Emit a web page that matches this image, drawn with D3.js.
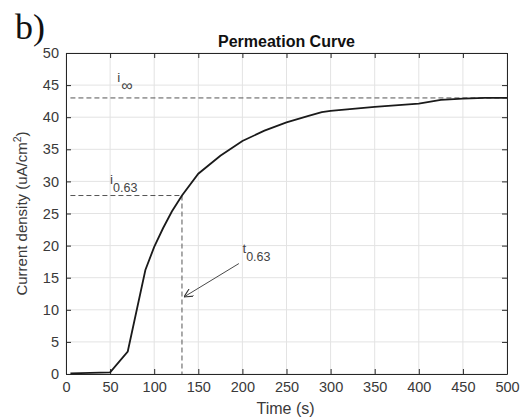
<!DOCTYPE html>
<html>
<head>
<meta charset="utf-8">
<script src="https://cdn.jsdelivr.net/npm/d3@7"></script>
<style>
body { margin: 0; background: #fff; }
text { font-family: Arial, "Liberation Sans", sans-serif; }
</style>
</head>
<body>
<script>
// permeation curve
var timeData = [5, 50, 70, 90, 100, 110, 120, 131.5, 150, 175, 200, 225, 250, 275, 290, 300, 350, 400, 425, 450, 475, 500];
var currentData = [0.1, 0.25, 3.5, 16.2, 19.8, 22.7, 25.3, 27.8, 31.2, 34, 36.3, 37.9, 39.2, 40.2, 40.8, 41, 41.6, 42.1, 42.7, 42.9, 43, 43];
var xTicks = [0, 50, 100, 150, 200, 250, 300, 350, 400, 450, 500];
var yTicks = [0, 5, 10, 15, 20, 25, 30, 35, 40, 45, 50];
var iInf = 43;
var i063 = 27.8;
var t063 = 131.5;
var tStart = 5;

var W = 523, H = 419;
var padL = 66, padR = 507, padT = 53, padB = 374;

var svg = d3.select("body").append("svg")
  .attr("width", W).attr("height", H);

var x = d3.scaleLinear().domain([0, 500]).range([padL, padR]);
var y = d3.scaleLinear().domain([0, 50]).range([padB, padT]);

// grid
svg.append("g").selectAll("line").data(xTicks).enter().append("line")
  .attr("x1", function(d) { return x(d); }).attr("x2", function(d) { return x(d); })
  .attr("y1", padT).attr("y2", padB)
  .attr("stroke", "#e3e3e3").attr("stroke-width", 1);
svg.append("g").selectAll("line").data(yTicks).enter().append("line")
  .attr("x1", padL).attr("x2", padR)
  .attr("y1", function(d) { return y(d); }).attr("y2", function(d) { return y(d); })
  .attr("stroke", "#e3e3e3").attr("stroke-width", 1);

// axes (ticks inward, matlab box)
var axCol = "#3a3a3a";
var gx = svg.append("g").attr("transform", "translate(0," + padB + ")")
  .call(d3.axisBottom(x).tickValues(xTicks).tickSizeInner(-5).tickSizeOuter(0).tickPadding(8));
var gy = svg.append("g").attr("transform", "translate(" + padL + ",0)")
  .call(d3.axisLeft(y).tickValues(yTicks).tickSizeInner(-5).tickSizeOuter(0).tickPadding(7));
var gt = svg.append("g").attr("transform", "translate(0," + padT + ")")
  .call(d3.axisTop(x).tickValues(xTicks).tickSizeInner(-5).tickSizeOuter(0).tickFormat(""));
var gr = svg.append("g").attr("transform", "translate(" + padR + ",0)")
  .call(d3.axisRight(y).tickValues(yTicks).tickSizeInner(-5).tickSizeOuter(0).tickFormat(""));
[gx, gy, gt, gr].forEach(function(g) {
  g.selectAll("path").attr("stroke", "#262626");
  g.selectAll("line").attr("stroke", "#262626");
  g.selectAll("text").attr("fill", axCol).style("font-size", "14.5px")
    .style("font-family", "Arial, 'Liberation Sans', sans-serif");
});

// dashed guides
var dash = "5,3";
svg.append("line")
  .attr("x1", x(tStart)).attr("x2", x(500))
  .attr("y1", y(iInf)).attr("y2", y(iInf))
  .attr("stroke", "#555").attr("stroke-width", 1).attr("stroke-dasharray", dash);
svg.append("line")
  .attr("x1", x(tStart)).attr("x2", x(t063))
  .attr("y1", y(i063)).attr("y2", y(i063))
  .attr("stroke", "#555").attr("stroke-width", 1).attr("stroke-dasharray", dash);
svg.append("line")
  .attr("x1", x(t063)).attr("x2", x(t063))
  .attr("y1", y(i063)).attr("y2", y(0))
  .attr("stroke", "#555").attr("stroke-width", 1).attr("stroke-dasharray", dash);

// curve
var line = d3.line()
  .x(function(d, i) { return x(timeData[i]); })
  .y(function(d) { return y(d); });
svg.append("path").datum(currentData)
  .attr("d", line)
  .attr("fill", "none").attr("stroke", "#1a1a1a").attr("stroke-width", 1.8);

// arrow to t0.63
svg.append("defs").append("marker")
  .attr("id", "arr").attr("viewBox", "0 0 10 10")
  .attr("refX", 10).attr("refY", 5)
  .attr("markerWidth", 9).attr("markerHeight", 9)
  .attr("orient", "auto").attr("markerUnits", "userSpaceOnUse")
  .append("path").attr("d", "M0,0 L10,5 L0,10").attr("fill", "none").attr("stroke", "#333").attr("stroke-width", 1.2);
svg.append("line")
  .attr("x1", x(196)).attr("y1", y(17.2))
  .attr("x2", x(t063) + 2).attr("y2", y(12))
  .attr("stroke", "#333").attr("stroke-width", 0.9)
  .attr("marker-end", "url(#arr)");

// annotation labels
function subLabel(main, sub, xp, yp, subSize, subDy, subDx) {
  var t = svg.append("text").attr("x", xp).attr("y", yp)
    .attr("fill", "#444").style("font-size", "13.5px");
  t.append("tspan").text(main);
  t.append("tspan").attr("dy", subDy).attr("dx", subDx).style("font-size", subSize).text(sub);
}
subLabel("i", "\u221E", x(58), y(45.5), "16px", 9, 1);
subLabel("i", "0.63", x(50), y(29.6), "12.5px", 8, 0);
subLabel("t", "0.63", x(200), y(18.8), "12.5px", 8, 0);

// title
svg.append("text").attr("x", (padL + padR) / 2).attr("y", 47)
  .attr("text-anchor", "middle").style("font-size", "16px").style("font-weight", "bold")
  .attr("fill", "#111").text("Permeation Curve");

// axis labels
svg.append("text").attr("x", (padL + padR) / 2 - 1).attr("y", 414)
  .attr("text-anchor", "middle").style("font-size", "16px").attr("fill", axCol)
  .text("Time (s)");
var yl = svg.append("text")
  .attr("transform", "translate(27," + ((padT + padB) / 2) + ") rotate(-90)")
  .attr("text-anchor", "middle").style("font-size", "15px").attr("fill", axCol);
yl.append("tspan").text("Current density (uA/cm");
yl.append("tspan").attr("dy", -6).style("font-size", "10.5px").text("2");
yl.append("tspan").attr("dy", 6).text(")");

// panel letter
svg.append("text").attr("x", 15).attr("y", 39)
  .style("font-family", "'Liberation Serif', 'Times New Roman', serif")
  .style("font-size", "36px").attr("fill", "#111").text("b)");
</script>
</body>
</html>
